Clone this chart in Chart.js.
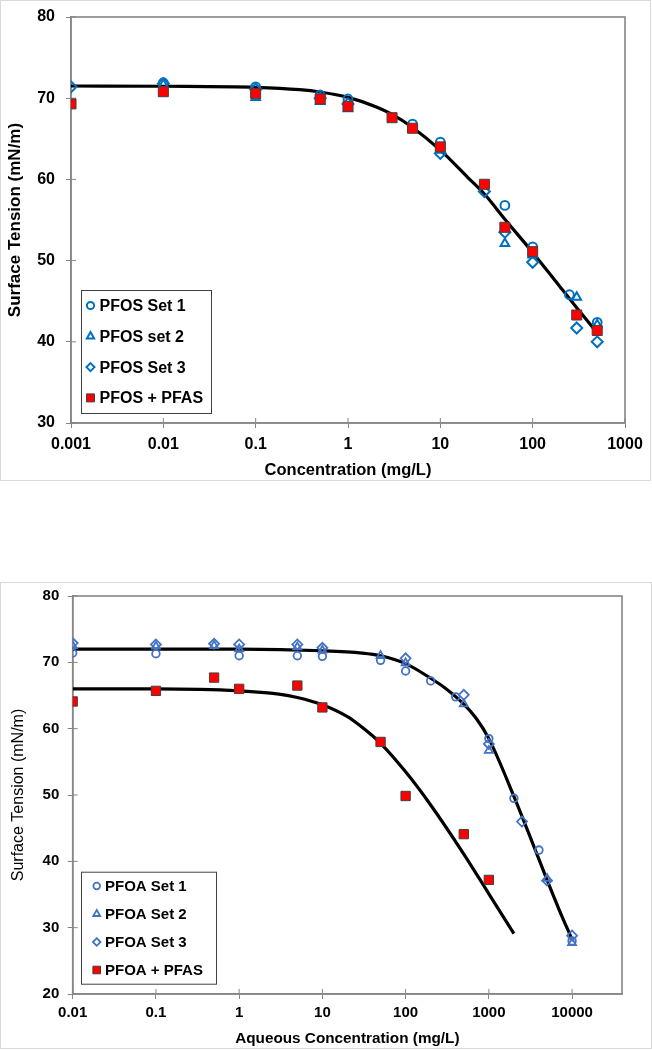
<!DOCTYPE html>
<html>
<head>
<meta charset="utf-8">
<script src="https://cdn.jsdelivr.net/npm/chart.js@4.4.1/dist/chart.umd.min.js"></script>
<style>
html,body{margin:0;padding:0;background:#fff;width:652px;height:1050px;overflow:hidden;}
.panel{position:absolute;border:1px solid #d9d9d9;box-sizing:border-box;}
#p1{left:0;top:0;width:651px;height:481px;}
#p2{left:0;top:582px;width:652px;height:467px;}
canvas{position:absolute;left:0;}
#c1{top:0;}
#c2{top:583px;}
</style>
</head>
<body>
<div class="panel" id="p1"></div>
<div class="panel" id="p2"></div>
<canvas id="c1" width="652" height="482"></canvas>
<canvas id="c2" width="652" height="467"></canvas>
<script>
// ---------- Top chart: PFOS ----------
const pfosSet1X = [0.01, 0.1, 0.5, 1, 5, 10, 50, 100, 250, 500];
const pfosSet1Y = [71.9, 71.4, 70.4, 69.9, 66.8, 64.6, 56.8, 51.7, 45.8, 42.4];
const pfosSet2X = [0.01, 0.1, 0.5, 1, 10, 50, 100, 300, 500];
const pfosSet2Y = [71.7, 70.1, 69.6, 68.7, 63.6, 52.1, 50.7, 45.5, 42.1];
const pfosSet3X = [0.001, 0.01, 0.1, 0.5, 1, 10, 30, 50, 100, 300, 500];
const pfosSet3Y = [71.4, 71.8, 71.1, 70.0, 69.3, 63.2, 58.5, 53.5, 49.8, 41.7, 40.0];
const pfosMixX = [0.001, 0.01, 0.1, 0.5, 1, 3, 5, 10, 30, 50, 100, 300, 500];
const pfosMixY = [69.3, 70.8, 70.6, 69.9, 69.0, 67.6, 66.3, 64.0, 59.4, 54.1, 51.1, 43.3, 41.4];
const pfosFitX = [0.001, 0.01, 0.1, 0.3, 0.5, 1, 2, 3, 5, 10, 20, 30, 50, 100, 200, 300, 500];
const pfosFitY = [71.5, 71.47, 71.34, 71.05, 70.76, 70.1, 68.95, 68.0, 66.4, 63.6, 60.2, 58.2, 55.1, 51.0, 46.7, 44.2, 41.1];
const pfosLabels = ['PFOS Set 1', 'PFOS set 2', 'PFOS Set 3', 'PFOS + PFAS'];
const topXTicks = [0.001, 0.01, 0.1, 1, 10, 100, 1000];
const topXTickLabels = ['0.001', '0.01', '0.1', '1', '10', '100', '1000'];
const topYTicks = [30, 40, 50, 60, 70, 80];
const topXTitle = 'Concentration (mg/L)';
const topYTitle = 'Surface Tension (mN/m)';

// ---------- Bottom chart: PFOA ----------
const pfoaSet1X = [0.01, 0.1, 1, 5, 10, 50, 100, 200, 400, 1000, 2000, 4000, 10000];
const pfoaSet1Y = [71.4, 71.3, 71.0, 71.0, 70.9, 70.3, 68.7, 67.2, 64.8, 58.5, 49.5, 41.7, 28.0];
const pfoaSet2X = [0.01, 0.1, 0.5, 1, 5, 10, 50, 100, 500, 1000, 5000, 10000];
const pfoaSet2Y = [72.5, 72.4, 72.5, 72.0, 72.3, 71.8, 71.0, 69.9, 63.7, 56.7, 37.4, 27.7];
const pfoaSet3X = [0.01, 0.1, 0.5, 1, 5, 10, 100, 500, 1000, 2500, 5000, 10000];
const pfoaSet3Y = [72.9, 72.7, 72.8, 72.7, 72.7, 72.2, 70.6, 65.1, 57.7, 46.0, 37.1, 28.8];
const pfoaMixX = [0.01, 0.1, 0.5, 1, 5, 10, 50, 100, 500, 1000];
const pfoaMixY = [64.1, 65.7, 67.7, 66.0, 66.5, 63.2, 58.0, 49.85, 44.1, 37.2];
const pfoaFitX = [0.01, 0.1, 1, 10, 30, 50, 100, 200, 300, 500, 700, 1000, 2000, 3000, 5000, 7000, 10000];
const pfoaFitY = [72.0, 72.0, 72.0, 71.75, 71.4, 71.0, 69.8, 67.6, 66.1, 63.7, 61.6, 58.5, 49.8, 44.3, 37.2, 32.7, 28.2];
const pfoaMixFitX = [0.01, 0.1, 1, 3, 5, 10, 20, 30, 50, 100, 200, 500, 1000, 2000];
const pfoaMixFitY = [66.0, 66.0, 65.7, 65.2, 64.7, 63.6, 61.8, 60.2, 57.8, 53.5, 48.5, 41.1, 35.1, 29.1];
const pfoaLabels = ['PFOA Set 1', 'PFOA Set 2', 'PFOA Set 3', 'PFOA + PFAS'];
const botXTicks = [0.01, 0.1, 1, 10, 100, 1000, 10000];
const botXTickLabels = ['0.01', '0.1', '1', '10', '100', '1000', '10000'];
const botYTicks = [20, 30, 40, 50, 60, 70, 80];
const botXTitle = 'Aqueous Concentration (mg/L)';
const botYTitle = 'Surface Tension (mN/m)';

const FONT = "Arial, 'Liberation Sans', sans-serif";
const AXIS = '#868686';

function pts(xs, ys) { return xs.map((x, i) => ({ x: x, y: ys[i] })); }

function drawMarker(ctx, style, x, y, r, fill, stroke, lw) {
  ctx.save();
  ctx.beginPath();
  if (style === 'circle') {
    ctx.arc(x, y, r, 0, Math.PI * 2);
  } else if (style === 'triangle') {
    ctx.moveTo(x, y - r);
    ctx.lineTo(x + r * 0.866, y + r * 0.5);
    ctx.lineTo(x - r * 0.866, y + r * 0.5);
    ctx.closePath();
  } else if (style === 'rectRot') {
    ctx.moveTo(x, y - r); ctx.lineTo(x + r, y); ctx.lineTo(x, y + r); ctx.lineTo(x - r, y); ctx.closePath();
  } else {
    ctx.rect(x - r, y - r, 2 * r, 2 * r);
  }
  if (fill) { ctx.fillStyle = fill; ctx.fill(); }
  if (stroke && lw) { ctx.lineWidth = lw; ctx.strokeStyle = stroke; ctx.stroke(); }
  ctx.restore();
}

const frameTicks = {
  id: 'frameTicks',
  beforeDatasetsDraw(chart) {
    const { ctx, chartArea: a } = chart;
    const xs = chart.scales.x, ys = chart.scales.y;
    ctx.save();
    ctx.strokeStyle = AXIS;
    ctx.lineWidth = 1;
    ctx.beginPath();
    xs.ticks.forEach(t => {
      const px = xs.getPixelForValue(t.value);
      ctx.moveTo(px, a.bottom); ctx.lineTo(px, a.bottom - 5);
    });
    ys.ticks.forEach(t => {
      const py = ys.getPixelForValue(t.value);
      ctx.moveTo(a.left, py); ctx.lineTo(a.left + 5, py);
    });
    ctx.stroke();
    ctx.lineWidth = 1.6;
    ctx.strokeRect(a.left, a.top, a.right - a.left, a.bottom - a.top);
    ctx.restore();
  }
};

const boxLegend = {
  id: 'boxLegend',
  afterDatasetsDraw(chart, args, o) {
    const ctx = chart.ctx;
    ctx.save();
    ctx.fillStyle = '#fff';
    ctx.fillRect(o.x, o.y, o.w, o.h);
    ctx.strokeStyle = '#404040';
    ctx.lineWidth = 1;
    ctx.strokeRect(o.x + 0.5, o.y + 0.5, o.w, o.h);
    ctx.font = 'bold ' + o.fontSize + 'px ' + FONT;
    ctx.textBaseline = 'middle';
    ctx.textAlign = 'left';
    o.items.forEach((it, i) => {
      const ds = chart.data.datasets[it];
      const cy = o.rowY + i * o.rowGap;
      drawMarker(ctx, ds.pointStyle, o.markerX, cy, o.markerR[i], ds.pointBackgroundColor, ds.pointBorderColor, ds.pointBorderWidth);
      ctx.fillStyle = '#000';
      ctx.fillText(ds.label, o.textX, cy + 1);
    });
    ctx.restore();
  }
};

function axisX(min, max, ticks, labels, title, titleSize, tickSize, height, tickPad, titlePad) {
  return {
    type: 'logarithmic', min: min, max: max,
    afterBuildTicks: s => { s.ticks = ticks.map(v => ({ value: v })); },
    afterFit: s => { s.height = height; s.paddingLeft = 0; s.paddingRight = 0; },
    ticks: { font: { family: FONT, size: tickSize, weight: 'bold' }, color: '#000', padding: tickPad, autoSkip: false, maxRotation: 0,
      callback: (v) => { const i = ticks.indexOf(v); return i >= 0 ? labels[i] : ''; } },
    grid: { drawOnChartArea: false, drawTicks: true, tickLength: 5, color: AXIS, lineWidth: 1 },
    border: { color: AXIS, width: 1.6 },
    title: { display: true, text: title, color: '#000', font: { family: FONT, size: titleSize, weight: 'bold' }, padding: { top: 0, bottom: titlePad } }
  };
}
function axisY(min, max, ticks, title, titleSize, titleWeight, width, tickPad, titlePad, tickSize) {
  return {
    type: 'linear', min: min, max: max,
    afterBuildTicks: s => { s.ticks = ticks.map(v => ({ value: v })); },
    afterFit: s => { s.width = width; s.paddingTop = 0; s.paddingBottom = 0; },
    ticks: { font: { family: FONT, size: tickSize, weight: 'bold' }, color: '#000', padding: tickPad, callback: v => String(v) },
    grid: { drawOnChartArea: false, drawTicks: true, tickLength: 5, color: AXIS, lineWidth: 1 },
    border: { color: AXIS, width: 1.6 },
    title: { display: true, text: title, color: '#000', font: { family: FONT, size: titleSize, weight: titleWeight }, padding: { top: titlePad, bottom: 0 } }
  };
}

function markerSet(label, xs, ys, style, r, fill, stroke, lw, order) {
  return { label: label, data: pts(xs, ys), pointStyle: style, pointRadius: r, pointHoverRadius: r,
    pointBackgroundColor: fill, pointBorderColor: stroke, pointBorderWidth: lw, showLine: false, order: order };
}
function fitLine(xs, ys) {
  return { label: 'fit', data: pts(xs, ys), showLine: true, borderColor: '#000', borderWidth: 3.2,
    pointRadius: 0, cubicInterpolationMode: 'monotone', fill: false, order: 10 };
}

const BLUE1 = '#0070C0';
const BLUE2 = '#4472C4';

new Chart(document.getElementById('c1'), {
  type: 'scatter',
  data: { datasets: [
    markerSet(pfosLabels[0], pfosSet1X, pfosSet1Y, 'circle', 4.4, 'rgba(255,255,255,0)', BLUE1, 2, 4),
    markerSet(pfosLabels[1], pfosSet2X, pfosSet2Y, 'triangle', 5, 'rgba(255,255,255,0)', BLUE1, 2, 3),
    markerSet(pfosLabels[2], pfosSet3X, pfosSet3Y, 'rectRot', 5.5, 'rgba(255,255,255,0)', BLUE1, 2, 2),
    markerSet(pfosLabels[3], pfosMixX, pfosMixY, 'rect', 7.1, '#FF0000', '#404040', 1, 1),
    fitLine(pfosFitX, pfosFitY)
  ] },
  options: {
    responsive: false, animation: false, events: [],
    layout: { padding: { top: 17, right: 27, left: 0, bottom: 0 } },
    scales: {
      x: axisX(0.001, 1000, topXTicks, topXTickLabels, topXTitle, 16.5, 16, 59, 6.5, 2),
      y: axisY(30, 80, topYTicks, topYTitle, 17, 'bold', 71, 11, 5, 16)
    },
    plugins: {
      legend: { display: false }, tooltip: { enabled: false },
      boxLegend: { x: 81, y: 290, w: 130, h: 123, rowY: 305.5, rowGap: 30.8, markerX: 90.5, textX: 99.5, fontSize: 16,
        items: [0, 1, 2, 3], markerR: [3.6, 4.2, 4, 4] }
    }
  },
  plugins: [frameTicks, boxLegend]
});

new Chart(document.getElementById('c2'), {
  type: 'scatter',
  data: { datasets: [
    markerSet(pfoaLabels[0], pfoaSet1X, pfoaSet1Y, 'circle', 3.8, 'rgba(255,255,255,0)', BLUE2, 1.8, 4),
    markerSet(pfoaLabels[1], pfoaSet2X, pfoaSet2Y, 'triangle', 4.6, 'rgba(255,255,255,0)', BLUE2, 1.8, 3),
    markerSet(pfoaLabels[2], pfoaSet3X, pfoaSet3Y, 'rectRot', 5, 'rgba(255,255,255,0)', BLUE2, 1.8, 2),
    markerSet(pfoaLabels[3], pfoaMixX, pfoaMixY, 'rect', 6.6, '#FF0000', '#404040', 1, 1),
    fitLine(pfoaFitX, pfoaFitY),
    fitLine(pfoaMixFitX, pfoaMixFitY)
  ] },
  options: {
    responsive: false, animation: false, events: [],
    layout: { padding: { top: 13, right: 30, left: 0, bottom: 0 } },
    scales: {
      x: axisX(0.01, 39800, botXTicks, botXTickLabels, botXTitle, 15.3, 15, 56, 4.5, 2.5),
      y: axisY(20, 80, botYTicks, botYTitle, 16, 'normal', 72.7, 8.4, 9, 15)
    },
    plugins: {
      legend: { display: false }, tooltip: { enabled: false },
      boxLegend: { x: 81, y: 871.7 - 583, w: 135, h: 112, rowY: 886 - 583, rowGap: 28, markerX: 96.7, textX: 105, fontSize: 15,
        items: [0, 1, 2, 3], markerR: [3.3, 4, 3.8, 3.8] }
    }
  },
  plugins: [frameTicks, boxLegend]
});
</script>
</body>
</html>
